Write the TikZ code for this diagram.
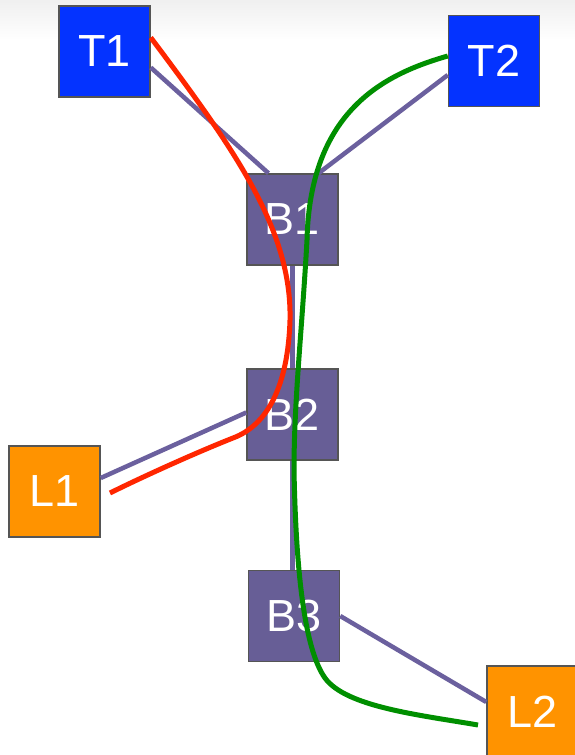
\documentclass[tikz,border=0pt]{standalone}
\usepackage{fontspec}
\setmainfont{Liberation Sans}
\usetikzlibrary{calc}
\definecolor{tblue}{HTML}{0433FF}
\definecolor{bpurp}{HTML}{675E96}
\definecolor{lorange}{HTML}{FF9300}
\definecolor{lpurp}{HTML}{6B609E}
\definecolor{rred}{HTML}{FF2600}
\definecolor{ggreen}{HTML}{008F00}
\definecolor{bord}{HTML}{555555}
\tikzset{
  box/.style={draw=bord, line width=1.5pt, minimum size=91pt, inner sep=0pt,
    text=white, font=\fontsize{45}{45}\selectfont},
  tbox/.style={box, fill=tblue},
  bbox/.style={box, fill=bpurp},
  lbox/.style={box, fill=lorange},
  link/.style={draw=lpurp, line width=4.5pt},
  redpath/.style={draw=rred, line width=5pt},
  greenpath/.style={draw=ggreen, line width=5pt},
}
\begin{document}
\begin{tikzpicture}[x=1pt,y=-1pt]
\useasboundingbox (0,0) rectangle (575,755);
\shade[top color=black!6, bottom color=white] (0,0) rectangle (575,40);
\fill[white] (0,40) rectangle (575,755);
% nodes
\node[tbox] (T1) at (104.5,51.5) {T1};
\node[tbox] (T2) at (494,61) {T2};
\node[bbox] (B1) at (292.5,219.5) {B1};
\node[bbox] (B2) at (292.5,414.5) {B2};
\node[bbox] (B3) at (294,616) {B3};
\node[lbox] (L1) at (54.5,491.5) {L1};
\node[lbox] (L2) at (532.5,711.5) {L2};
% links
\draw[link] ([yshift=-16pt]T1.east) -- ([xshift=-24pt]B1.north);
\draw[link] ([yshift=-14pt]T2.west) -- ([xshift=26pt]B1.north);
\draw[link] (B1.south) -- (B1.south |- B2.north);
\draw[link] ([yshift=2pt]B2.west) -- ([yshift=13.5pt]L1.east);
\draw[link] (B2.south) -- (B2.south |- B3.north);
\draw[link] (B3.east) -- ([yshift=9.5pt]L2.west);
% red path
\coordinate (rend) at (110,493);
\draw[redpath] ([yshift=14pt]T1.east)
  .. controls (235,150) and (292,230) .. (290,320)
  .. controls (288,385) and (268,425) .. (233,438)
  .. controls (195,453) and (140,478) .. (rend);
% green path
\coordinate (gend) at (478,725);
\draw[greenpath] ([yshift=5pt]T2.west)
  .. controls (385,74) and (310,110) .. (307,240)
  .. controls (302,330) and (294,400) .. (294,470)
  .. controls (296,575) and (305,650) .. (325,678)
  .. controls (346,707) and (420,715) .. (gend);
\end{tikzpicture}
\end{document}
